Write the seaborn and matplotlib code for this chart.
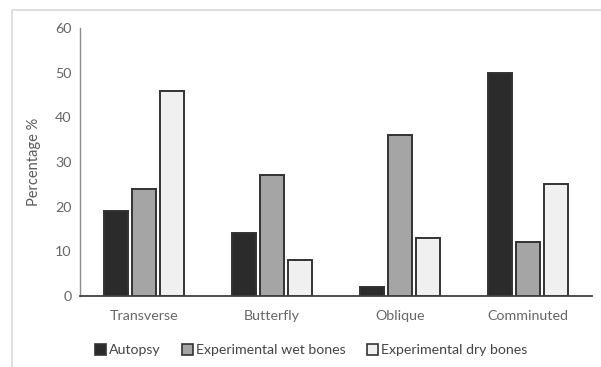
import matplotlib
matplotlib.use("Agg")
import matplotlib.pyplot as plt
import seaborn as sns
import pandas as pd
from matplotlib.patches import Rectangle, Patch

categories = ["Transverse", "Butterfly", "Oblique", "Comminuted"]
series_names = ["Autopsy", "Experimental wet bones", "Experimental dry bones"]
autopsy = [19, 14, 2, 50]
wet = [24, 27, 36, 12]
dry = [46, 8, 13, 25]
yticks = [0, 10, 20, 30, 40, 50, 60]

colors = ["#2b2b2b", "#a5a5a5", "#f0f0f0"]

rows = []
for name, vals in zip(series_names, [autopsy, wet, dry]):
    for c, v in zip(categories, vals):
        rows.append({"Category": c, "Series": name, "Value": v})
df = pd.DataFrame(rows)

sns.set_theme(style="white")
plt.rcParams["font.family"] = ["Lato", "DejaVu Sans"]

fig = plt.figure(figsize=(6.01, 3.67), dpi=100)
ax = fig.add_axes([80/601, 1-296/367, 512/601, 268/367])

sns.barplot(data=df, x="Category", y="Value", hue="Series", order=categories,
            hue_order=series_names, palette=colors, width=0.66, gap=0.15,
            edgecolor="#333333", linewidth=1.4, ax=ax, legend=False)

ax.set_ylim(0, 60)
ax.set_xlim(-0.5, 3.5)
ax.set_yticks(yticks)
ax.set_xlabel("")
ax.set_ylabel("Percentage %", fontsize=10.5, color="#595959", labelpad=10)
for s in ["top", "right"]:
    ax.spines[s].set_visible(False)
ax.spines["left"].set_color("#8c8c8c")
ax.spines["left"].set_linewidth(1.0)
ax.spines["bottom"].set_color("#404040")
ax.spines["bottom"].set_linewidth(1.3)
ax.tick_params(axis="both", length=0, labelsize=10.3, labelcolor="#666666")
ax.tick_params(axis="y", pad=6)
ax.tick_params(axis="x", pad=10)

handles = [Patch(facecolor=c, edgecolor="#333333", linewidth=1.2) for c in colors]
fig.legend(handles, series_names, loc="center", bbox_to_anchor=(311/601, 1-350/367),
           ncol=3, frameon=False, fontsize=10.2, handlelength=0.8, handleheight=0.8,
           handletextpad=0.2, columnspacing=1.5, labelcolor="#444444")

fig.patches.append(Rectangle((12/601, -0.1), 1.2, (1-10/367)+0.1, transform=fig.transFigure,
                             fill=False, edgecolor="#d9d9d9", linewidth=1.2, zorder=0))

fig.savefig("out.png", dpi=100)
